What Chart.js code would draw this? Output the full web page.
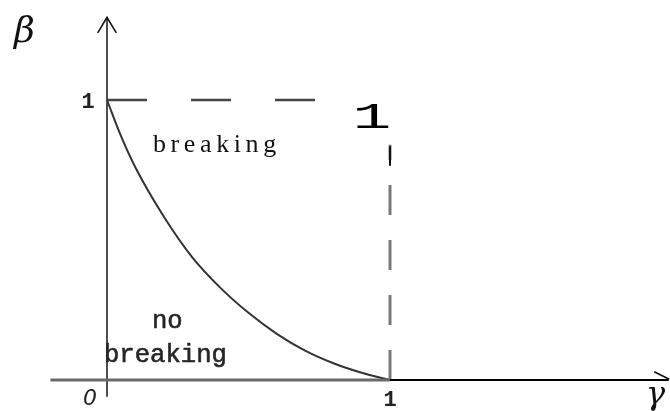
<!DOCTYPE html>
<html>
<head>
<meta charset="utf-8">
<script src="https://cdn.jsdelivr.net/npm/chart.js@4.4.1/dist/chart.umd.min.js"></script>
<style>
  html, body { margin: 0; padding: 0; background: #fff; }
  canvas { display: block; }
</style>
</head>
<body>
<canvas id="c" width="670" height="411"></canvas>
<script>
// Breaking threshold curve beta(gamma)
const curveGamma = [0, 0.05, 0.1, 0.2, 0.3, 0.4, 0.5, 0.6, 0.7, 0.8, 0.9, 1];
const curveBeta  = [1, 0.87, 0.76, 0.585, 0.44, 0.33, 0.24, 0.165, 0.105, 0.06, 0.026, 0];

// Dashed guide lines: beta = 1 (top) and gamma = 1 (right)
const topGuideGamma = [0, 0.75];
const topGuideBeta  = [1, 1];
const sideGuideGamma = [1, 1];
const sideGuideBeta  = [0, 0.84];

// Axes
const xAxisInner = [-0.2, 1];      // gamma range of the left part of the horizontal axis
const xAxisOuter = [1, 1.985];     // gamma range of the right part
const yAxisRange = [-0.06, 1.295]; // beta range of the vertical axis

// Tick labels
const xTickLabels = ['0', '1'];
const yTickLabels = ['1'];

const pts = (xs, ys) => xs.map((x, i) => ({ x: x, y: ys[i] }));

const axisLabels = {
  id: 'axisLabels',
  afterDatasetsDraw(chart) {
    const ctx = chart.ctx;
    const xs = chart.scales.x, ys = chart.scales.y;
    const px = v => xs.getPixelForValue(v);
    const py = v => ys.getPixelForValue(v);
    ctx.save();

    // arrow heads
    ctx.strokeStyle = '#111';
    ctx.lineWidth = 1.6;
    ctx.lineCap = 'round';
    const ax = px(0), ayTop = py(yAxisRange[1]);
    ctx.beginPath();
    ctx.moveTo(ax - 9, ayTop + 15);
    ctx.lineTo(ax, ayTop);
    ctx.lineTo(ax + 9, ayTop + 15);
    ctx.stroke();
    const bxRight = px(xAxisOuter[1]), by = py(0);
    ctx.beginPath();
    ctx.moveTo(bxRight - 14, by - 8);
    ctx.lineTo(bxRight, by - 1);
    ctx.stroke();

    // short dark tick at top of the gamma = 1 guide
    ctx.strokeStyle = '#111';
    ctx.lineWidth = 2;
    ctx.beginPath();
    ctx.moveTo(px(1), 147);
    ctx.lineTo(px(1), 165);
    ctx.stroke();

    // axis names
    ctx.fillStyle = '#111';
    ctx.font = 'italic 36px "DejaVu Serif"';
    ctx.textBaseline = 'alphabetic';
    ctx.textAlign = 'left';
    ctx.fillText('β', 14, 42);
    ctx.font = 'italic 32px "DejaVu Serif"';
    ctx.fillText('γ', 646, 404);

    // tick labels
    ctx.fillStyle = '#222';
    ctx.textAlign = 'center';
    ctx.font = 'bold 22px "Liberation Mono"';
    ctx.fillText(yTickLabels[0], px(0) - 19, py(1) + 8);
    ctx.font = 'italic 22px "DejaVu Sans"';
    ctx.fillText(xTickLabels[0], px(0) - 17, py(0) + 25);
    ctx.font = 'bold 22px "Liberation Mono"';
    ctx.fillText(xTickLabels[1], px(1), py(0) + 26);

    // large value label at the corner of the guides
    ctx.save();
    ctx.fillStyle = '#000';
    ctx.translate(372, 128);
    ctx.scale(1.75, 1);
    ctx.font = '37px "Liberation Mono"';
    ctx.textAlign = 'center';
    ctx.fillText('1', 0, 0);
    ctx.restore();

    // region labels
    ctx.textAlign = 'left';
    ctx.fillStyle = '#111';
    ctx.font = '26px "Liberation Serif"';
    ctx.letterSpacing = '4.6px';
    ctx.fillText('breaking', 153, 152);
    ctx.letterSpacing = '0px';
    ctx.fillStyle = '#262626';
    ctx.strokeStyle = '#262626';
    ctx.lineWidth = 0.6;
    ctx.font = '25.6px "Liberation Mono"';
    ctx.fillText('no', 152, 328);
    ctx.strokeText('no', 152, 328);
    ctx.fillText('breaking', 104, 362);
    ctx.strokeText('breaking', 104, 362);

    ctx.restore();
  }
};

new Chart(document.getElementById('c'), {
  type: 'scatter',
  data: {
    datasets: [
      {
        label: 'x axis (inner)',
        data: pts(xAxisInner, [0, 0]),
        showLine: true, borderColor: '#6a6a6a', borderWidth: 3, pointRadius: 0
      },
      {
        label: 'x axis (outer)',
        data: pts(xAxisOuter, [0, 0]),
        showLine: true, borderColor: '#000', borderWidth: 2, pointRadius: 0
      },
      {
        label: 'y axis',
        data: pts([0, 0], yAxisRange),
        showLine: true, borderColor: '#3a3a3a', borderWidth: 1.8, pointRadius: 0
      },
      {
        label: 'beta = 1',
        data: pts(topGuideGamma, topGuideBeta),
        showLine: true, borderColor: '#444', borderWidth: 2.5, borderDash: [40, 44], pointRadius: 0
      },
      {
        label: 'gamma = 1',
        data: pts(sideGuideGamma, sideGuideBeta),
        showLine: true, borderColor: '#7a7a7a', borderWidth: 3, borderDash: [30, 25], pointRadius: 0
      },
      {
        label: 'threshold',
        data: pts(curveGamma, curveBeta),
        showLine: true, borderColor: '#333', borderWidth: 2, pointRadius: 0,
        cubicInterpolationMode: 'monotone'
      }
    ]
  },
  options: {
    responsive: false,
    devicePixelRatio: 1,
    animation: false,
    layout: { padding: 0 },
    plugins: { legend: { display: false }, tooltip: { enabled: false }, title: { display: false } },
    scales: {
      x: { type: 'linear', display: false, min: -107 / 283, max: 563 / 283 },
      y: { type: 'linear', display: false, min: -31 / 280, max: 380 / 280 }
    }
  },
  plugins: [axisLabels]
});
</script>
</body>
</html>
